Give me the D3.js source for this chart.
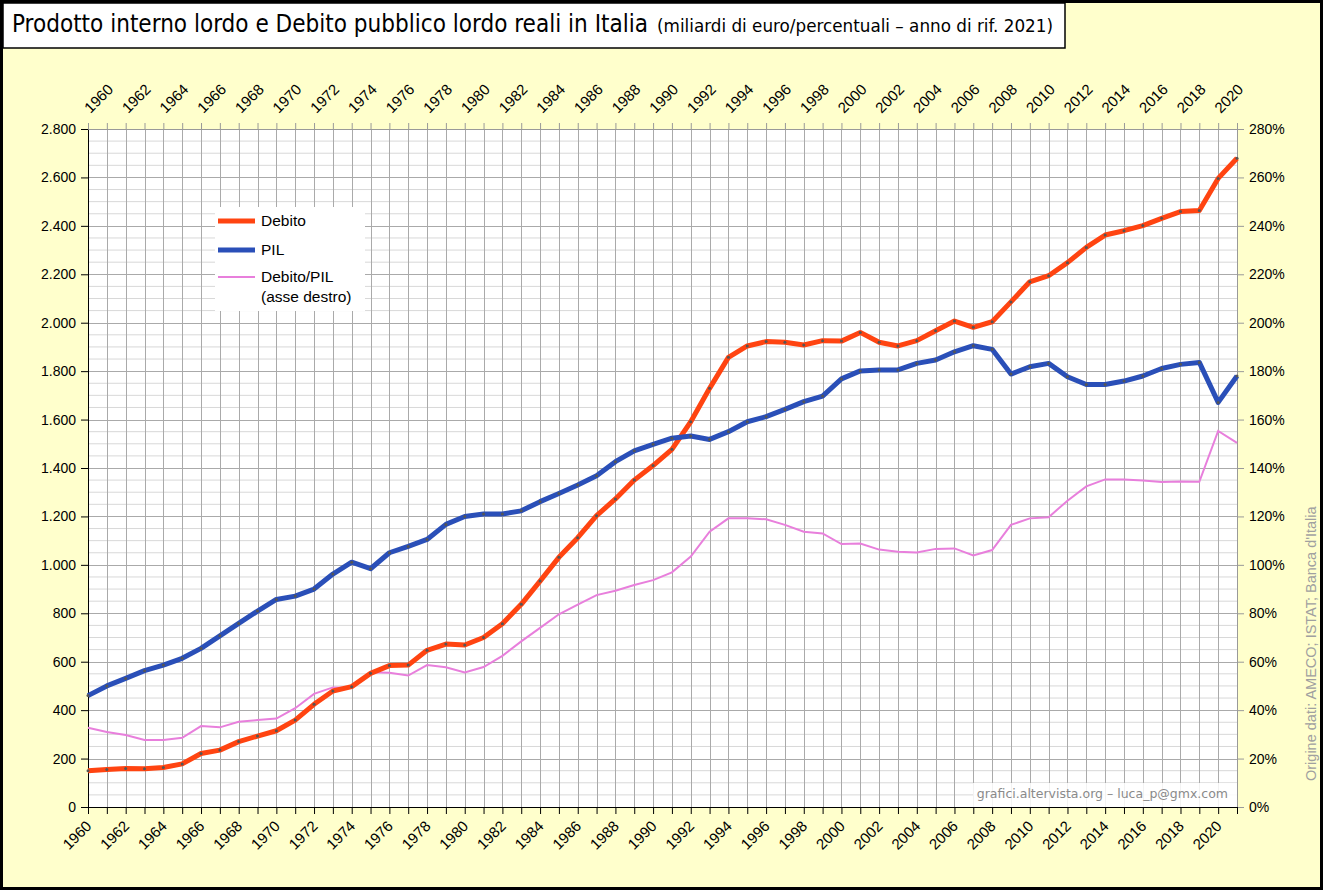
<!DOCTYPE html>
<html><head><meta charset="utf-8">
<script src="https://cdn.jsdelivr.net/npm/d3@7"></script>
<style>html,body{margin:0;padding:0;background:#fff}svg{display:block}</style>
</head><body>
<svg id="chart" width="1323" height="890"></svg>
<script>
const years = d3.range(1960, 2022);
const debito = [150,155,159,158,163,178,221,235,270,293,315,359,424,479,497,552,584,586,647,673,669,700,757,837,933,1031,1112,1203,1272,1350,1410,1477,1591,1729,1857,1904,1922,1919,1908,1926,1924,1960,1919,1904,1926,1967,2007,1981,2004,2086,2169,2194,2248,2311,2362,2380,2401,2431,2459,2463,2596,2679];
const pil = [460,500,531,563,586,614,655,707,758,809,857,871,900,962,1011,984,1050,1076,1105,1167,1200,1210,1210,1223,1261,1295,1330,1368,1426,1471,1498,1523,1532,1518,1550,1591,1612,1642,1674,1697,1768,1801,1805,1805,1832,1846,1880,1905,1890,1788,1818,1832,1777,1745,1745,1759,1780,1811,1828,1836,1671,1780];
const rapporto = [32.7,31.0,29.7,27.7,27.7,28.6,33.4,32.9,35.2,35.9,36.5,40.8,46.7,49.4,49.2,55.6,55.4,54.3,58.6,57.7,55.6,57.8,62.4,68.4,74.0,79.6,83.6,87.5,89.3,91.7,93.7,96.9,103.4,113.7,119.2,119.2,118.8,116.5,113.7,113.0,108.6,108.8,106.3,105.4,105.1,106.6,106.8,103.9,106.1,116.5,119.2,119.7,126.5,132.4,135.3,135.3,134.8,134.2,134.4,134.3,155.3,150.4];
const leftTicks = d3.range(0, 2801, 200);
const rightTicks = d3.range(0, 281, 20);
const yearLabels = d3.range(1960, 2021, 2);
const legendItems = [["Debito"],["PIL"],["Debito/PIL","(asse destro)"]];
const titleMain = "Prodotto interno lordo e Debito pubblico lordo reali in Italia";
const titleSub = "(miliardi di euro/percentuali – anno di rif. 2021)";
const sourceText = "Origine dati: AMECO; ISTAT; Banca d'Italia";
const creditText = "grafici.altervista.org – luca_p@gmx.com";

const svg = d3.select("#chart");
const L = 88, R = 1237, T = 129, B = 807;
const x = d3.scaleLinear().domain([1960, 2021]).range([L, R]);
const y = d3.scaleLinear().domain([0, 2800]).range([B, T]);
const y2 = d3.scaleLinear().domain([0, 280]).range([B, T]);

// background
svg.append("rect").attr("x",0).attr("y",0).attr("width",1323).attr("height",890).attr("fill","#ffffcc");
svg.append("rect").attr("x",1.5).attr("y",1.5).attr("width",1320).attr("height",887).attr("fill","none").attr("stroke","#000").attr("stroke-width",3);

// title box
svg.append("rect").attr("x",3).attr("y",3).attr("width",1062).attr("height",45).attr("fill","#fff").attr("stroke","#000").attr("stroke-width",1.5);
const tf = "'Liberation Sans Narrow','DejaVu Sans Condensed',sans-serif";
svg.append("text").attr("x",12).attr("y",32).attr("font-family",tf).attr("font-size",24).attr("fill","#000")
  .attr("textLength",636).attr("lengthAdjust","spacingAndGlyphs").text(titleMain);
svg.append("text").attr("x",657).attr("y",32).attr("font-family",tf).attr("font-size",17).attr("fill","#000")
  .attr("textLength",396).attr("lengthAdjust","spacingAndGlyphs").text(titleSub);

// plot bg
svg.append("rect").attr("x",L).attr("y",T).attr("width",R-L).attr("height",B-T).attr("fill","#fff");

// grid
const g = svg.append("g");
g.selectAll(".hmin").data(d3.range(50, 2800, 50).filter(v => v % 200 !== 0)).join("line")
  .attr("x1",L).attr("x2",R).attr("y1",d=>y(d)).attr("y2",d=>y(d)).attr("stroke","#d8d8d8").attr("stroke-width",1);
g.selectAll(".v").data(years).join("line")
  .attr("x1",d=>Math.round(x(d))+0.5).attr("x2",d=>Math.round(x(d))+0.5).attr("y1",T).attr("y2",B).attr("stroke","#aaaaaa").attr("stroke-width",1);
g.selectAll(".hmaj").data(leftTicks).join("line")
  .attr("x1",L).attr("x2",R).attr("y1",d=>Math.round(y(d))+0.5).attr("y2",d=>Math.round(y(d))+0.5).attr("stroke","#aaaaaa").attr("stroke-width",1);

// credit box
svg.append("rect").attr("x",973).attr("y",783).attr("width",R-973).attr("height",B-783).attr("fill","#fff").attr("fill-opacity",0.85);
svg.append("text").attr("x",1228).attr("y",798).attr("text-anchor","end").attr("font-family","'DejaVu Sans',sans-serif").attr("font-size",12.5).attr("fill","#8a8a8a").text(creditText);

// axes
const af = "'Liberation Sans',Arial,sans-serif";
const fmt = d3.formatLocale({decimal:",", thousands:".", grouping:[3]}).format(",");
const axL = svg.append("g").attr("transform",`translate(${L},0)`).call(d3.axisLeft(y).tickValues(leftTicks).tickFormat(fmt).tickSize(7).tickPadding(5));
axL.selectAll("text").attr("font-family",af).attr("font-size",14).attr("fill","#000");
axL.selectAll("line,path").attr("stroke","#000");
const axR = svg.append("g").attr("transform",`translate(${R},0)`).call(d3.axisRight(y2).tickValues(rightTicks).tickFormat(d=>d+"%").tickSize(7).tickPadding(5));
axR.selectAll("text").attr("font-family",af).attr("font-size",14).attr("fill","#000");
axR.selectAll("line,path").attr("stroke","#999");
const axB = svg.append("g").attr("transform",`translate(0,${B})`).call(d3.axisBottom(x).tickValues(years).tickFormat(d=>yearLabels.includes(d)?String(d):"").tickSize(7));
axB.selectAll("line,path").attr("stroke","#000");
axB.selectAll("text").attr("font-family",af).attr("font-size",15).attr("fill","#000")
  .attr("text-anchor","end").attr("dy",null).attr("y",0).attr("transform","translate(4,20) rotate(-45)");
const axT = svg.append("g").attr("transform",`translate(0,${T})`).call(d3.axisTop(x).tickValues(years).tickFormat(d=>yearLabels.includes(d)?String(d):"").tickSize(6));
axT.selectAll("line,path").attr("stroke","#999");
axT.selectAll("text").attr("font-family",af).attr("font-size",15).attr("fill","#000")
  .attr("text-anchor","start").attr("dy",null).attr("y",0).attr("transform","translate(2,-15) rotate(-45)");

// lines
const lineL = d3.line().x((d,i)=>x(years[i])).y(d=>y(d));
const lineR = d3.line().x((d,i)=>x(years[i])).y(d=>y2(d));
svg.append("path").attr("d",lineR(rapporto)).attr("fill","none").attr("stroke","#e87fdc").attr("stroke-width",2);
svg.append("path").attr("d",lineL(debito)).attr("fill","none").attr("stroke","#ff4411").attr("stroke-width",5).attr("stroke-linejoin","round");
svg.append("path").attr("d",lineL(pil)).attr("fill","none").attr("stroke","#2a4fb8").attr("stroke-width",5).attr("stroke-linejoin","round");
[debito, pil].forEach(arr => {
  svg.append("g").selectAll("circle").data(arr).join("circle")
    .attr("cx",(d,i)=>x(years[i])).attr("cy",d=>y(d)).attr("r",1.5).attr("fill","#555");
});

// legend
svg.append("rect").attr("x",215).attr("y",207).attr("width",150).attr("height",104).attr("fill","#fff");
const lg = svg.append("g");
const lcol = ["#ff4411","#2a4fb8","#e87fdc"], lw = [5,5,2], ly = [221,250,277];
legendItems.forEach((it,i) => {
  lg.append("line").attr("x1",218).attr("x2",255).attr("y1",ly[i]).attr("y2",ly[i]).attr("stroke",lcol[i]).attr("stroke-width",lw[i]);
  it.forEach((s,j) => lg.append("text").attr("x",261).attr("y",ly[i]+5+j*20).attr("font-family",af).attr("font-size",15.5).attr("fill","#000").text(s));
});

// source
svg.append("text").attr("transform","translate(1316,781) rotate(-90)").attr("font-family",af).attr("font-size",14.5).attr("fill","#a0a0a0").text(sourceText);
</script>
</body></html>
